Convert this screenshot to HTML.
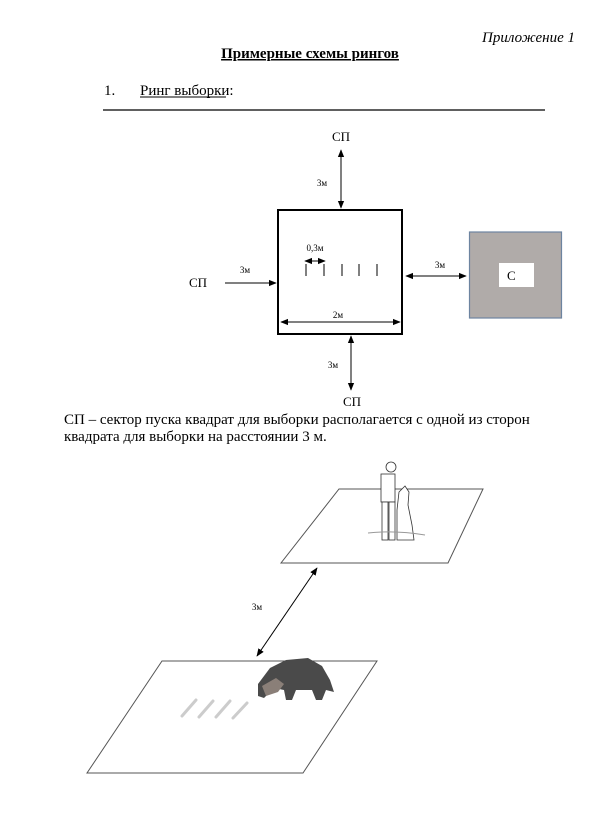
<!DOCTYPE html>
<html><head><meta charset="utf-8"><style>
html,body{margin:0;padding:0;background:#fff;}
svg{display:block;font-family:"Liberation Serif",serif;}
</style></head><body>
<svg width="600" height="816" viewBox="0 0 600 816" xmlns="http://www.w3.org/2000/svg">
<defs>
<marker id="a" viewBox="0 0 10 10" refX="9" refY="5" markerWidth="8" markerHeight="8" orient="auto-start-reverse"><path d="M0,1 L10,5 L0,9 z" fill="#000"/></marker>
</defs>
<text x="575" y="42" font-size="15" font-style="italic" text-anchor="end">Приложение 1</text>
<text x="310" y="58" font-size="15" font-weight="bold" text-anchor="middle" text-decoration="underline">Примерные схемы рингов</text>
<text x="104" y="95" font-size="15">1.</text>
<text x="140" y="95" font-size="15">Ринг выборки:</text>
<line x1="140" y1="97" x2="226" y2="97" stroke="#000" stroke-width="1"/>
<line x1="103" y1="110" x2="545" y2="110" stroke="#000" stroke-width="1.2"/>

<rect x="278" y="210" width="124" height="124" fill="none" stroke="#000" stroke-width="2"/>
<rect x="469.5" y="232" width="92" height="86" fill="#b0aba9" stroke="#6d84a0" stroke-width="1.2"/>
<rect x="499" y="263" width="35" height="24" fill="#fff"/>
<text x="507" y="280" font-size="13">С</text>

<text x="341" y="141" font-size="13" text-anchor="middle">СП</text>
<line x1="341" y1="150" x2="341" y2="208" stroke="#000" marker-start="url(#a)" marker-end="url(#a)"/>
<text x="322" y="186" font-size="9" text-anchor="middle">3м</text>

<text x="198" y="287" font-size="13" text-anchor="middle">СП</text>
<line x1="225" y1="283" x2="276" y2="283" stroke="#000" marker-end="url(#a)"/>
<text x="245" y="273" font-size="9" text-anchor="middle">3м</text>

<line x1="406" y1="276" x2="466" y2="276" stroke="#000" marker-start="url(#a)" marker-end="url(#a)"/>
<text x="440" y="268" font-size="9" text-anchor="middle">3м</text>

<line x1="351" y1="336" x2="351" y2="390" stroke="#000" marker-start="url(#a)" marker-end="url(#a)"/>
<text x="333" y="368" font-size="9" text-anchor="middle">3м</text>
<text x="352" y="406" font-size="13" text-anchor="middle">СП</text>

<line x1="281" y1="322" x2="400" y2="322" stroke="#000" marker-start="url(#a)" marker-end="url(#a)"/>
<text x="338" y="318" font-size="9" text-anchor="middle">2м</text>
<text x="315" y="251" font-size="9" text-anchor="middle">0,3м</text>
<line x1="305" y1="261" x2="325" y2="261" stroke="#000" marker-start="url(#a)" marker-end="url(#a)"/>
<g stroke="#000" stroke-width="1">
<line x1="306" y1="264" x2="306" y2="276"/><line x1="324" y1="264" x2="324" y2="276"/>
<line x1="342" y1="264" x2="342" y2="276"/><line x1="359" y1="264" x2="359" y2="276"/>
<line x1="377" y1="264" x2="377" y2="276"/>
</g>

<text x="64" y="424" font-size="15">СП – сектор пуска квадрат для выборки располагается с одной из сторон</text>
<text x="64" y="441" font-size="15">квадрата для выборки на расстоянии 3 м.</text>

<polygon points="339,489 483,489 448,563 281,563" fill="none" stroke="#555" stroke-width="1"/>
<polygon points="162,661 377,661 303,773 87,773" fill="none" stroke="#555" stroke-width="1"/>
<line x1="257" y1="656" x2="317" y2="568" stroke="#000" marker-start="url(#a)" marker-end="url(#a)"/>
<text x="257" y="610" font-size="9" text-anchor="middle">3м</text>

<g stroke="#333" stroke-width="0.8" fill="#fff">
<circle cx="391" cy="467" r="5"/>
<rect x="381" y="474" width="14" height="28"/>
<rect x="382" y="502" width="6" height="38"/><rect x="389" y="502" width="6" height="38"/>
<path d="M399,492 L405,486 L409,492 L408,505 L412,525 L414,540 L397,540 L397,510 Z"/>
</g>
<path d="M368,533 Q395,530 425,535" stroke="#999" fill="none"/>

<path d="M258,684 L264,676 L270,668 L286,660 L308,658 L322,666 L330,680 L334,692 L326,690 L322,700 L316,700 L312,690 L296,690 L292,700 L286,700 L284,690 L274,688 L264,698 L258,696 Z" fill="#4a4a4a"/>
<path d="M262,686 L276,678 L284,684 L278,692 L266,696 Z" fill="#8a7f78"/>
<g stroke="#ccc" stroke-width="3" stroke-linecap="round">
<line x1="182" y1="716" x2="196" y2="700"/><line x1="199" y1="717" x2="213" y2="701"/>
<line x1="216" y1="717" x2="230" y2="701"/><line x1="233" y1="718" x2="247" y2="703"/>
</g>
</svg>
</body></html>
